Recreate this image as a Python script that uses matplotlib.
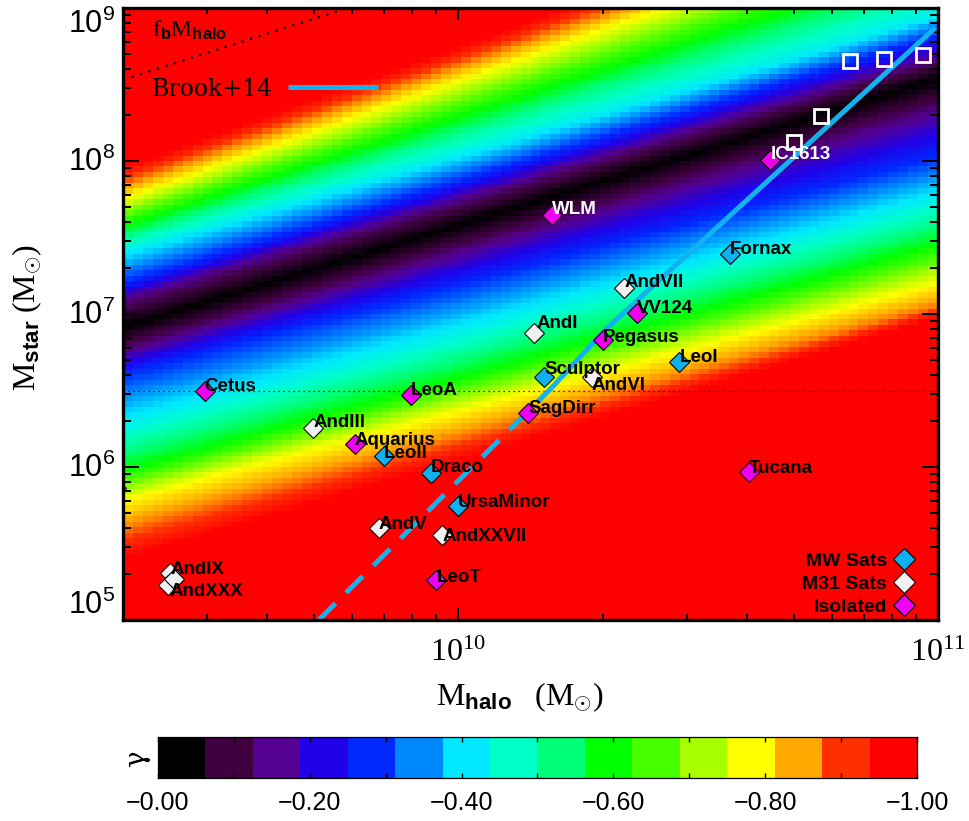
import numpy as np
import matplotlib
matplotlib.use('Agg')
import matplotlib.pyplot as plt
from matplotlib.colors import LinearSegmentedColormap, ListedColormap
from matplotlib.ticker import NullFormatter

plt.rcParams['mathtext.fontset'] = 'custom'
plt.rcParams['mathtext.rm'] = 'Liberation Serif'
plt.rcParams['mathtext.it'] = 'Liberation Serif:italic'
plt.rcParams['mathtext.bf'] = 'Liberation Sans:bold'
plt.rcParams['mathtext.sf'] = 'Liberation Sans'

# ---------------- data ----------------
xlim = (2e9, 1e11)
ylim = (1e5, 1e9)

# MW satellites
mw_names = ['Sculptor', 'Fornax', 'LeoI', 'LeoII', 'Draco', 'UrsaMinor']
mw_mhalo = [1.51e10, 3.68e10, 2.89e10, 7.0e9, 8.77e9, 1.0e10]
mw_mstar = [3.87e6, 2.47e7, 4.85e6, 1.18e6, 9.14e5, 5.56e5]

# M31 satellites
m31_names = ['AndI', 'AndIII', 'AndV', 'AndVI', 'AndVII', 'AndIX', 'AndXXX', 'AndXXVII', '']
m31_mhalo = [1.44e10, 4.99e9, 6.82e9, 1.90e10, 2.22e10, 2.51e9, 2.48e9, 9.25e9, 2.55e9]
m31_mstar = [7.5e6, 1.80e6, 3.99e5, 3.87e6, 1.48e7, 2.03e5, 1.69e5, 3.6e5, 1.85e5]

# isolated dwarfs
iso_names = ['Cetus', 'LeoA', 'Aquarius', 'LeoT', 'Pegasus', 'SagDirr', 'Tucana',
             'WLM', 'IC1613', 'VV124']
iso_mhalo = [2.96e9, 7.96e9, 6.08e9, 9.0e9, 2.0e10, 1.40e10, 4.04e10, 1.57e10, 4.47e10, 2.36e10]
iso_mstar = [3.14e6, 2.96e6, 1.41e6, 1.82e5, 6.76e6, 2.25e6, 9.27e5, 4.44e7, 1.02e8, 1.02e7]

# clipped open diamond at the left edge
edge_mhalo = [1.93e9]
edge_mstar = [7.3e5]

# open white squares
sq_mhalo = [6.55e10, 7.71e10, 9.31e10, 5.69e10, 5.01e10]
sq_mstar = [4.51e8, 4.65e8, 4.93e8, 1.97e8, 1.33e8]

# Brook+14 relation
brook_dash_mhalo = [5.12e9, 1.57e10]
brook_dash_mstar = [1.0e5, 3.33e6]
brook_solid_mhalo = [1.57e10, 2.02e10, 9.86e10]
brook_solid_mstar = [3.33e6, 7.85e6, 7.4e8]

fb = 0.17
mstar_hline = 3.14e6

# gamma field: iso-gamma levels, log Mstar at left (logMh=9.30) and right (logMh=11.0) edges
field_logmh = [9.30, 11.0]
gamma_levels = [-1.0, -0.87, -0.78, -0.59, -0.42, -0.28, -0.15, 0.0,
                -0.15, -0.28, -0.42, -0.59, -0.78, -1.0]
iso_logms_left = [5.33, 5.59, 5.78, 5.98, 6.29, 6.61, 6.75, 6.91,
                  7.09, 7.20, 7.40, 7.57, 7.75, 7.99]
iso_logms_right = [6.95, 7.05, 7.20, 7.46, 7.77, 8.03, 8.33, 8.54,
                   8.68, 8.82, 8.95, 9.30, 9.63, 9.92]

# colorbar colours, gamma 0 -> -1
cb_colors = ['#000000', '#400040', '#540090', '#2000e8', '#0028ff', '#0088ff',
             '#00e8ff', '#00ffc8', '#00ff78', '#00ff00', '#48ff00', '#a8ff00',
             '#ffff00', '#ffa800', '#ff3000', '#ff0000']
cb_ticks = [0.0, -0.2, -0.4, -0.6, -0.8, -1.0]
cb_ticklabels = ['\u22120.00', '\u22120.20', '\u22120.40', '\u22120.60', '\u22120.80', '\u22121.00']

# ---------------- styles ----------------
c_mw = '#10b0f0'
c_m31 = '#f0f0f0'
c_iso = '#f000f0'
c_brook = '#12b2ee'

label_offsets = {
    'Cetus': (0, 4), 'LeoA': (0, 4), 'AndIII': (0, 5), 'Aquarius': (0, 4),
    'LeoII': (0, 3), 'Draco': (0, 5), 'UrsaMinor': (0, 4), 'AndV': (0, 4),
    'AndXXVII': (0, -2), 'AndIX': (0, 3), 'AndXXX': (2, -6), 'LeoT': (0, 3),
    'Pegasus': (0, 3), 'Sculptor': (0, 8), 'AndVI': (0, -8), 'LeoI': (0, 5),
    'SagDirr': (0, 5), 'Tucana': (0, 4), 'WLM': (0, 5), 'IC1613': (0, 5),
    'Fornax': (0, 4), 'AndVII': (0, 5), 'VV124': (0, 4), 'AndI': (2, 10),
}
white_labels = {'WLM', 'IC1613'}

# continuous colormap for the field (vmin=-1 -> red, vmax=0 -> black)
nodes = [(0.0, cb_colors[-1])]
for i in range(15, 0, -1):
    nodes.append((1 - (i + 0.5) / 16, cb_colors[i]))
nodes.append((1.0, cb_colors[0]))
cmap_field = LinearSegmentedColormap.from_list('gam', nodes, N=256)

fig = plt.figure(figsize=(9.7, 8.21), dpi=100)
ax = fig.add_axes([123 / 970, 1 - 620 / 821, 815 / 970, 612 / 821])
ax.set_xscale('log')
ax.set_yscale('log')

# heat map
nx, ny = 82, 112
lx_edges = np.linspace(np.log10(xlim[0]), np.log10(xlim[1]), nx + 1)
ly_edges = np.linspace(np.log10(ylim[0]), np.log10(ylim[1]), ny + 1)
lxc = 0.5 * (lx_edges[:-1] + lx_edges[1:])
lyc = 0.5 * (ly_edges[:-1] + ly_edges[1:])
L = np.array(iso_logms_left)
R = np.array(iso_logms_right)
G = np.empty((ny, nx))
for j, m in enumerate(lxc):
    t = (m - field_logmh[0]) / (field_logmh[1] - field_logmh[0])
    P = L + t * (R - L)
    G[:, j] = np.interp(lyc, P, gamma_levels, left=-1.0, right=-1.0)
ax.pcolormesh(10 ** lx_edges, 10 ** ly_edges, G, cmap=cmap_field, vmin=-1, vmax=0,
              shading='flat', zorder=0)

# reference lines
ax.axhline(mstar_hline, color='k', lw=0.9, ls=(0, (1, 3)), zorder=2)
fx = np.array(xlim)
ax.plot(fx, fb * fx, color='k', lw=1.6, ls=(0, (1, 3)), zorder=2)

# Brook+14
ax.plot(brook_dash_mhalo, brook_dash_mstar, color=c_brook, lw=3.6,
        ls=(0, (4.7, 3.0)), dash_capstyle='butt', zorder=3)
brook_line, = ax.plot(brook_solid_mhalo, brook_solid_mstar, color=c_brook, lw=3.6,
                      solid_capstyle='butt', zorder=3)

# points
mk = dict(marker='D', ls='none', ms=10.4, mec='k', mew=0.8, zorder=4)
h_mw, = ax.plot(mw_mhalo, mw_mstar, mfc=c_mw, **mk)
h_m31, = ax.plot(m31_mhalo, m31_mstar, mfc=c_m31, **mk)
h_iso, = ax.plot(iso_mhalo, iso_mstar, mfc=c_iso, **mk)
ax.plot(edge_mhalo, edge_mstar, marker='D', ls='none', ms=10.4, mfc='none',
        mec='k', mew=0.8, zorder=4)
ax.plot(sq_mhalo, sq_mstar, marker='s', ls='none', ms=9.6, mfc='none', mec='white',
        mew=2.0, zorder=4)

# labels
for names, mh, ms in ((mw_names, mw_mhalo, mw_mstar), (m31_names, m31_mhalo, m31_mstar),
                      (iso_names, iso_mhalo, iso_mstar)):
    for n, x, y in zip(names, mh, ms):
        if not n:
            continue
        dx, dy = label_offsets.get(n, (0, 4))
        ax.annotate(n, (x, y), xytext=(dx, dy), textcoords='offset pixels',
                    ha='left', va='center', fontsize=13.5, fontweight='bold',
                    family='Liberation Sans',
                    color='white' if n in white_labels else 'black', zorder=6)

ax.set_xlim(xlim)
ax.set_ylim(ylim)

# text: f_b M_halo
ax.text((152 - 123) / 815, (620 - 30) / 612, r'$\mathrm{f}_{\mathbf{b}}\mathrm{M}_{\mathbf{halo}}$',
        transform=ax.transAxes, ha='left', va='center', fontsize=17, zorder=6)

# legends
leg1 = ax.legend([brook_line], ['Brook+14'], loc='center left',
                 bbox_to_anchor=((152 - 123) / 815, (620 - 89) / 612),
                 frameon=False, markerfirst=False, handlelength=3.8, handletextpad=0.62,
                 borderpad=0, borderaxespad=0, prop={'family': 'DejaVu Serif', 'size': 17})
ax.add_artist(leg1)
leg2 = ax.legend([h_mw, h_m31, h_iso], ['MW Sats', 'M31 Sats', 'Isolated'],
                 loc='lower right', bbox_to_anchor=((916 - 123) / 815, (620 - 616) / 612),
                 frameon=False, markerfirst=False, handlelength=1.2, handletextpad=0.3,
                 labelspacing=0.27, borderpad=0, borderaxespad=0, markerscale=1.08,
                 prop={'family': 'Liberation Sans', 'weight': 'bold', 'size': 14})

# axes styling
for s in ax.spines.values():
    s.set_linewidth(2.4)
    s.set_zorder(7)
ax.tick_params(which='both', direction='in', top=True, right=True, width=1.4, color='k')
ax.tick_params(axis='y', which='major', length=11.7)
ax.tick_params(axis='y', which='minor', length=5.9)
ax.tick_params(axis='x', which='major', length=8.8)
ax.tick_params(axis='x', which='minor', length=4.4)
ax.set_xticks([1e10, 1e11])
ax.set_xticklabels([r'$10^{10}$', r'$10^{11}$'], fontsize=23)
ax.xaxis.set_minor_formatter(NullFormatter())
ax.tick_params(axis='x', which='major', pad=12)
ax.set_yticks([1e5, 1e6, 1e7, 1e8, 1e9])
ax.tick_params(axis='y', labelleft=False)
ax.yaxis.set_minor_formatter(NullFormatter())
ytr = ax.get_yaxis_transform()
for v, e in zip([1e5, 1e6, 1e7, 1e8, 1e9], [5, 6, 7, 8, 9]):
    va = 'center'
    if e == 9:
        va = 'top'
    elif e == 5:
        va = 'bottom'
    ax.text(-0.0098, v, r'$\mathsf{10^{%d}}$' % e, transform=ytr, ha='right', va=va,
            fontsize=22, clip_on=False)

ax.set_xlabel(r'$\mathrm{M}_{\mathbf{halo}}\quad(\mathrm{M}_{\odot})$', fontsize=23)
ax.xaxis.set_label_coords((520 - 123) / 815, (620 - 680) / 612)
ax.set_ylabel(r'$\mathrm{M}_{\mathbf{star}}\ (\mathrm{M}_{\odot})$', fontsize=23)
ax.yaxis.set_label_coords((44 - 123) / 815, (620 - 317) / 612)

# colour bar
cax = fig.add_axes([158 / 970, 1 - 778 / 821, 759 / 970, 41 / 821])
edges = np.linspace(0, -1, 17)
centers = 0.5 * (edges[:-1] + edges[1:])
cax.pcolormesh(edges, [0, 1], centers[None, :], cmap=ListedColormap(cb_colors[::-1]),
               vmin=-1, vmax=0, shading='flat')
cax.set_xlim(0, -1)
cax.set_ylim(0, 1)
cax.set_yticks([])
cax.set_xticks(cb_ticks)
cax.set_xticklabels(cb_ticklabels, fontsize=18, family='Liberation Sans')
cax.set_xticks(np.linspace(0, -1, 11), minor=True)
cax.tick_params(which='both', direction='in', top=True, bottom=True, length=3.5, width=1,
                pad=9)
for s in cax.spines.values():
    s.set_linewidth(0.9)
fig.text(137 / 970, 1 - 758 / 821, '\u03b3', rotation=90, ha='center', va='center',
         fontsize=20, family='DejaVu Serif')

fig.savefig('out.png', dpi=100, facecolor='white')
